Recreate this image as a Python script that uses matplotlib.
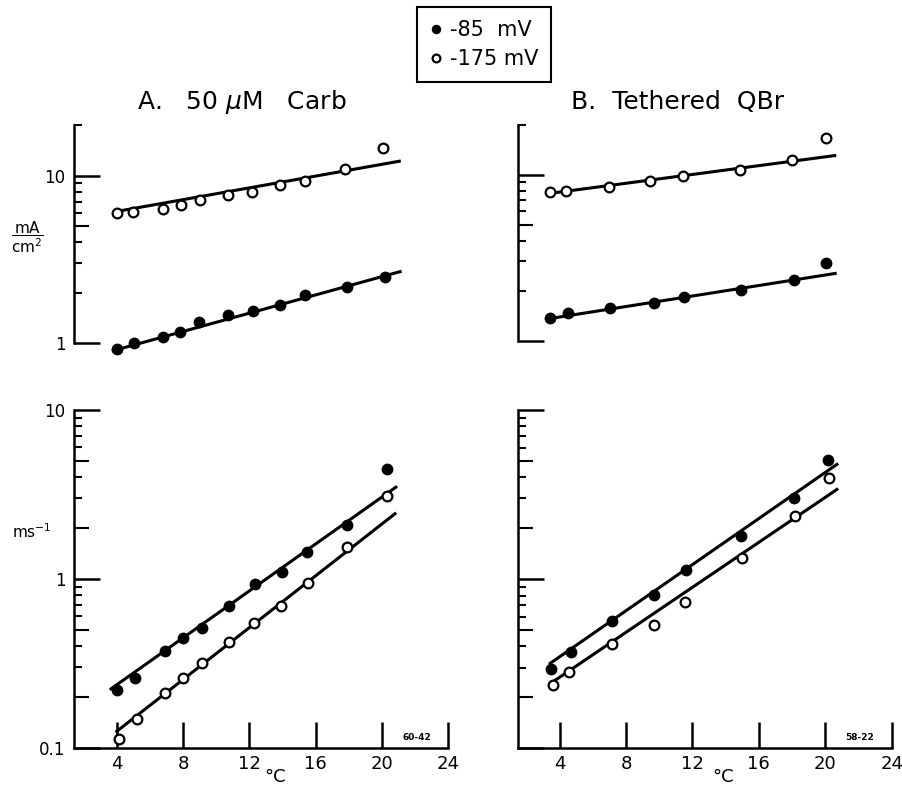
import numpy as np
import matplotlib
matplotlib.use('Agg')
import matplotlib.pyplot as plt
from matplotlib.ticker import NullFormatter

# A. 50 uM Carb, courant (mA/cm2) en fonction de la temperature
carb_t85 = [4.04, 5.04, 6.79, 7.83, 8.98, 10.73, 12.24, 13.85, 15.35, 17.87, 20.18]
carb_i85 = [0.92, 1.00, 1.08, 1.17, 1.33, 1.47, 1.55, 1.69, 1.94, 2.17, 2.49]
carb_t175 = [4.00, 4.96, 6.79, 7.88, 9.02, 10.69, 12.16, 13.85, 15.35, 17.77, 20.08]
carb_i175 = [5.96, 6.09, 6.35, 6.71, 7.16, 7.64, 8.02, 8.79, 9.33, 10.9, 14.6]
carb_ifit_t85 = [3.79, 21.09]
carb_ifit85 = [0.90, 2.67]
carb_ifit_t175 = [3.90, 21.04]
carb_ifit175 = [6.09, 12.2]

# A. 50 uM Carb, constante de vitesse (ms-1)
carb_kt85 = [4.04, 5.10, 6.89, 7.98, 9.14, 10.79, 12.32, 13.95, 15.50, 17.91, 20.32]
carb_k85 = [0.22, 0.258, 0.376, 0.447, 0.515, 0.689, 0.93, 1.10, 1.45, 2.09, 4.48]
carb_kt175 = [4.14, 5.20, 6.89, 7.98, 9.14, 10.79, 12.28, 13.89, 15.54, 17.87, 20.28]
carb_k175 = [0.113, 0.148, 0.211, 0.258, 0.317, 0.422, 0.549, 0.689, 0.943, 1.55, 3.11]
carb_kfit_t85 = [3.65, 20.83]
carb_kfit85 = [0.223, 3.49]
carb_kfit_t175 = [4.00, 20.78]
carb_kfit175 = [0.125, 2.43]

# B. Tethered QBr, courant
qbr_t85 = [3.40, 4.50, 7.05, 9.68, 11.47, 14.92, 18.10, 20.07]
qbr_i85 = [1.37, 1.47, 1.57, 1.68, 1.82, 2.03, 2.33, 2.95]
qbr_t175 = [3.40, 4.40, 6.97, 9.46, 11.41, 14.84, 18.00, 20.07]
qbr_i175 = [7.83, 7.91, 8.47, 9.08, 9.73, 10.7, 12.3, 16.5]
qbr_ifit_t85 = [3.23, 20.60]
qbr_ifit85 = [1.35, 2.54]
qbr_ifit_t175 = [3.23, 20.57]
qbr_ifit175 = [7.66, 13.0]

# B. Tethered QBr, constante de vitesse
qbr_kt85 = [3.49, 4.68, 7.15, 9.66, 11.59, 14.94, 18.13, 20.18]
qbr_k85 = [0.296, 0.372, 0.567, 0.804, 1.14, 1.80, 3.03, 5.05]
qbr_kt175 = [3.58, 4.58, 7.15, 9.70, 11.57, 14.96, 18.19, 20.22]
qbr_k175 = [0.238, 0.281, 0.413, 0.535, 0.734, 1.34, 2.36, 3.97]
qbr_kfit_t85 = [3.43, 20.70]
qbr_kfit85 = [0.318, 4.77]
qbr_kfit_t175 = [3.64, 20.70]
qbr_kfit175 = [0.249, 3.39]

temp_ticks = [4, 8, 12, 16, 20, 24]
legend_labels = ['-85  mV', '-175 mV']

W, H = 902, 788
fig = plt.figure(figsize=(W / 100, H / 100), dpi=100)


def add_ax(left, bottom, top, xlim, px_per_deg):
    width = (xlim[1] - xlim[0]) * px_per_deg
    ax = fig.add_axes([left / W, (H - bottom) / H, width / W, (bottom - top) / H])
    ax.set_xlim(xlim)
    ax.patch.set_visible(False)
    return ax


def style(ax, ylo, yhi, majors, labels, medium, show_x):
    ax.set_yscale('log')
    ax.set_ylim(ylo, yhi)
    ax.spines['top'].set_visible(False)
    ax.spines['right'].set_visible(False)
    ax.spines['left'].set_bounds(ylo, yhi)
    ax.spines['left'].set_linewidth(1.8)
    minors = []
    for dec in [0.1, 1, 10]:
        for m in range(2, 10):
            v = m * dec
            if ylo <= v <= yhi * 1.001:
                minors.append(v)
    ax.set_yticks(majors, labels)
    ax.set_yticks(minors, minor=True)
    ax.yaxis.set_minor_formatter(NullFormatter())
    ax.tick_params(axis='y', which='major', direction='in', length=18.5,
                   width=1.8, pad=6, labelsize=12)
    ax.tick_params(axis='y', which='minor', direction='in', length=5.5,
                   width=1.5)
    if show_x:
        ax.spines['bottom'].set_bounds(ax.get_xlim()[0], 24)
        ax.spines['bottom'].set_linewidth(1.8)
        ax.set_xticks(temp_ticks)
        ax.tick_params(axis='x', direction='in', length=18.5, width=1.8,
                       pad=5, labelsize=13)
    else:
        ax.spines['bottom'].set_visible(False)
        ax.set_xticks([])
    # ticks plus longs a 2 et 5
    locs = ax.yaxis.get_minorticklocs()
    for t, v in zip(ax.yaxis.get_minor_ticks(len(locs)), locs):
        mant = round(v / 10 ** np.floor(np.log10(v) + 1e-9))
        if mant in medium:
            t.tick1line.set_markersize(11)


def draw(ax, t85, v85, t175, v175, ft85, f85, ft175, f175):
    ax.plot(ft85, f85, color='black', lw=2.2, clip_on=False)
    ax.plot(ft175, f175, color='black', lw=2.2, clip_on=False)
    h1, = ax.plot(t85, v85, 'o', color='black', ms=8.5, mew=0, zorder=3,
                  clip_on=False)
    h2, = ax.plot(t175, v175, 'o', mfc='white', mec='black', ms=7, mew=1.6,
                  zorder=3, clip_on=False)
    return h1, h2


# colonne A
ax1 = add_ax(74, 343, 125.3, (1.42, 24.5), 16.58)
h85, h175 = draw(ax1, carb_t85, carb_i85, carb_t175, carb_i175,
                 carb_ifit_t85, carb_ifit85, carb_ifit_t175, carb_ifit175)
style(ax1, 1, 20, [1, 10], ['1', '10'], [5], False)

ax3 = add_ax(74, 747.7, 410, (1.42, 24.5), 16.58)
draw(ax3, carb_kt85, carb_k85, carb_kt175, carb_k175,
     carb_kfit_t85, carb_kfit85, carb_kfit_t175, carb_kfit175)
style(ax3, 0.1, 10, [0.1, 1, 10], ['0.1', '1', '10'], [2, 5], True)
ax3.text(0.896, 0.03, '60-42', transform=ax3.transAxes, ha='center',
         va='center', fontsize=6.5, fontweight='bold')

# colonne B
ax2 = add_ax(518, 340.7, 124.5, (1.49, 24.2), 16.6)
draw(ax2, qbr_t85, qbr_i85, qbr_t175, qbr_i175,
     qbr_ifit_t85, qbr_ifit85, qbr_ifit_t175, qbr_ifit175)
style(ax2, 1, 20, [1, 10], ['', ''], [5], False)

ax4 = add_ax(518, 748.3, 410, (1.49, 24.2), 16.6)
draw(ax4, qbr_kt85, qbr_k85, qbr_kt175, qbr_k175,
     qbr_kfit_t85, qbr_kfit85, qbr_kfit_t175, qbr_kfit175)
style(ax4, 0.1, 10, [0.1, 1, 10], ['', '', ''], [2, 5], True)
ax4.text(0.907, 0.033, '58-22', transform=ax4.transAxes, ha='center',
         va='center', fontsize=6.5, fontweight='bold')

# titres et unites
fig.text(242 / W, 1 - 102 / H, r'A.   50 $\mu$M   Carb', ha='center',
         va='center', fontsize=18)
fig.text(678 / W, 1 - 102 / H, 'B.  Tethered  QBr', ha='center',
         va='center', fontsize=18)
fig.text(27 / W, 1 - 237 / H, r'$\dfrac{\mathrm{mA}}{\mathrm{cm^2}}$',
         ha='center', va='center', fontsize=11)
fig.text(32 / W, 1 - 532 / H, r'ms$^{-1}$', ha='center', va='center',
         fontsize=11)
fig.text(275 / W, 1 - 786 / H, '°C', ha='center', va='bottom', fontsize=13)
fig.text(723 / W, 1 - 786 / H, '°C', ha='center', va='bottom', fontsize=13)

leg = fig.legend([h85, h175], legend_labels, loc='upper left',
                 bbox_to_anchor=(416.7 / W, 1 - 7.3 / H), frameon=True,
                 fancybox=False, edgecolor='black', framealpha=1,
                 fontsize=15, handlelength=0.7, handletextpad=0.3,
                 borderpad=0.6, labelspacing=0.45, borderaxespad=0,
                 markerscale=0.8)
leg.get_frame().set_linewidth(1.5)

fig.savefig('out.png', dpi=100)
